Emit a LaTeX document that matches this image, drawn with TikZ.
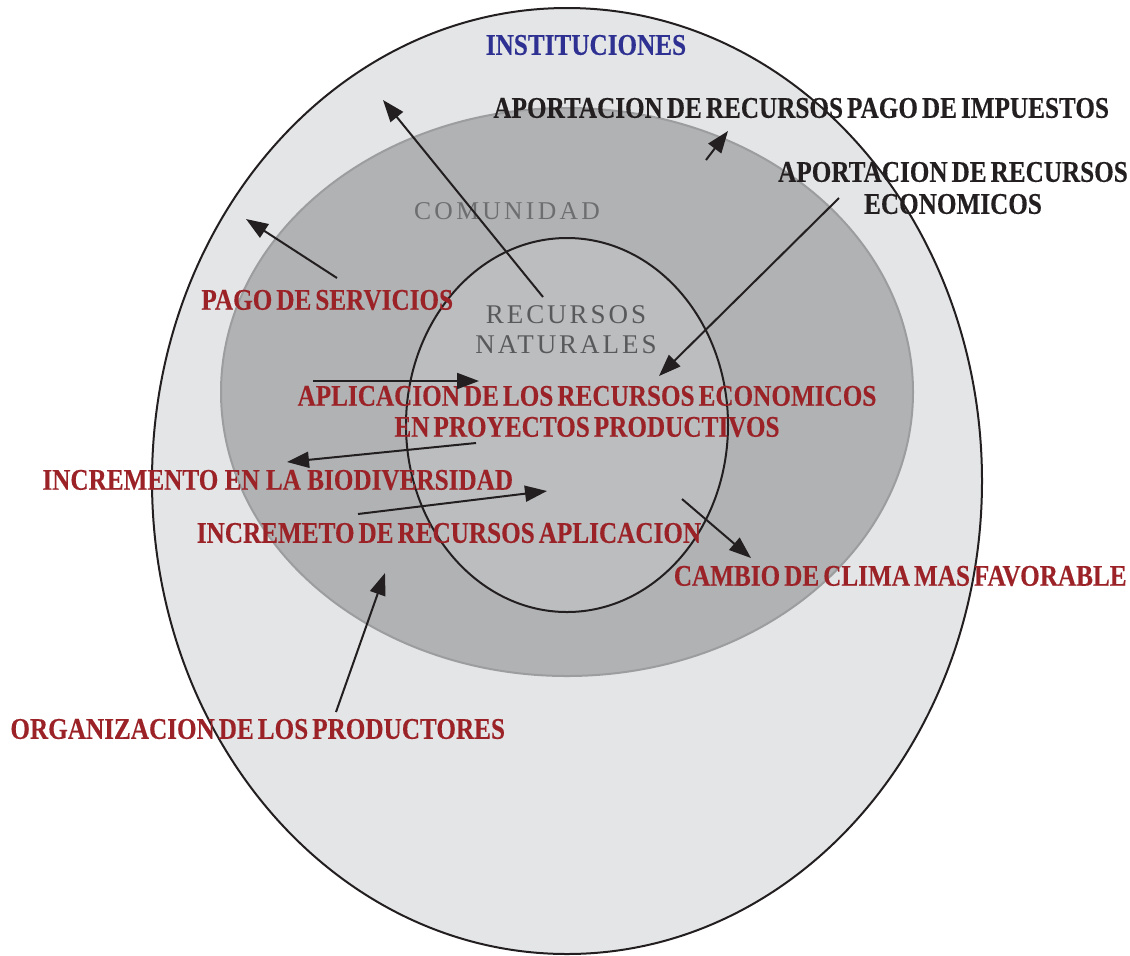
\documentclass[tikz,border=0pt]{standalone}
\usepackage{fontspec}
\setmainfont{Liberation Serif}
\newfontfamily\condbf[FakeStretch=0.84,FakeBold=0.3]{Liberation Serif}
\newfontfamily\spacedrm[LetterSpace=13]{Liberation Serif}
\newfontfamily\spacedrmn[LetterSpace=11]{Liberation Serif}
\usetikzlibrary{arrows.meta}
\definecolor{outerfill}{HTML}{E4E5E7}
\definecolor{midfill}{HTML}{B1B2B4}
\definecolor{midline}{HTML}{9C9D9F}
\definecolor{innerfill}{HTML}{BCBDBF}
\definecolor{ink}{HTML}{231F20}
\definecolor{redlbl}{HTML}{9B2328}
\definecolor{bluelbl}{HTML}{2E3192}
\definecolor{comgray}{HTML}{6D6E70}
\definecolor{natgray}{HTML}{58595B}
\newcommand\tightlbl{\condbf\bfseries\fontsize{15}{15.5}\selectfont\spaceskip=2pt\relax}
\tikzset{
  ring/.style={draw=ink, line width=1pt},
  arr/.style={draw=ink, line width=1pt, -{Triangle[length=11pt,width=8pt]}},
  lbl/.style={inner sep=0pt, font=\tightlbl},
  rlbl/.style={lbl, text=redlbl},
  klbl/.style={lbl, text=ink},
  zone/.style={inner sep=0pt, align=center}
}
\begin{document}
\begin{tikzpicture}[x=0.5pt, y=-0.5pt]
  \useasboundingbox (0,0) rectangle (1130,955);

  % the three areas
  \fill[outerfill] (567,481) ellipse (415 and 473);
  \draw[ring] (567,481) ellipse (415 and 473);
  \filldraw[fill=midfill, draw=midline, line width=1pt] (567,392) ellipse (346 and 284);
  \filldraw[fill=innerfill, ring] (567,425) ellipse (161 and 187);

  % area names
  \node[lbl, text=bluelbl] (inst) at (586,45) {INSTITUCIONES};
  \node[zone, text=comgray, font=\spacedrm\fontsize{12.8}{13}\selectfont] (com) at (507,211) {COMUNIDAD};
  \node[zone, text=natgray, font=\spacedrmn\fontsize{13.5}{15}\selectfont] (nat) at (566,330) {RECURSOS\\NATURALES};

  % flows
  \node[klbl, anchor=west] (impuestos) at (493,108) {APORTACION DE RECURSOS PAGO DE IMPUESTOS};
  \node[klbl, align=center, font=\tightlbl\fontsize{15}{16}\selectfont] (economicos) at (953,188) {APORTACION DE RECURSOS\\ECONOMICOS};
  \node[rlbl, anchor=west] (servicios) at (201,300) {PAGO DE SERVICIOS};
  \node[rlbl, align=center] (aplicacion) at (587,411.5) {APLICACION DE LOS RECURSOS ECONOMICOS\\EN PROYECTOS PRODUCTIVOS};
  \node[rlbl, anchor=west, font=\condbf\bfseries\fontsize{15}{15.5}\selectfont] (biodiv) at (42,480) {INCREMENTO EN LA BIODIVERSIDAD};
  \node[rlbl] (incremeto) at (449,533) {INCREMETO DE RECURSOS APLICACION};
  \node[rlbl, anchor=east] (clima) at (1127,576) {CAMBIO DE CLIMA MAS FAVORABLE};
  \node[rlbl, anchor=west] (productores) at (10,729) {ORGANIZACION DE LOS PRODUCTORES};

  % arrow ends
  \coordinate (natS) at (543,297);
  \coordinate (instT) at (383,100);
  \coordinate (impS) at (706,160);
  \coordinate (impT) at (728,131);
  \coordinate (ecoS) at (839,198);
  \coordinate (ecoT) at (659,376);
  \coordinate (servS) at (337,278);
  \coordinate (servT) at (246,219);
  \coordinate (aplS) at (313,381);
  \coordinate (aplT) at (479,381);
  \coordinate (bioS) at (476,443);
  \coordinate (bioT) at (287,462);
  \coordinate (incS) at (358,514);
  \coordinate (incT) at (547,491);
  \coordinate (climS) at (682,499);
  \coordinate (climT) at (751,558);
  \coordinate (prodS) at (336,712);
  \coordinate (prodT) at (385,573);

  \draw[arr] (natS) -- (instT);
  \draw[arr] (impS) -- (impT);
  \draw[arr] (ecoS) -- (ecoT);
  \draw[arr] (servS) -- (servT);
  \draw[arr] (aplS) -- (aplT);
  \draw[arr] (bioS) -- (bioT);
  \draw[arr] (incS) -- (incT);
  \draw[arr] (climS) -- (climT);
  \draw[arr] (prodS) -- (prodT);
\end{tikzpicture}
\end{document}
